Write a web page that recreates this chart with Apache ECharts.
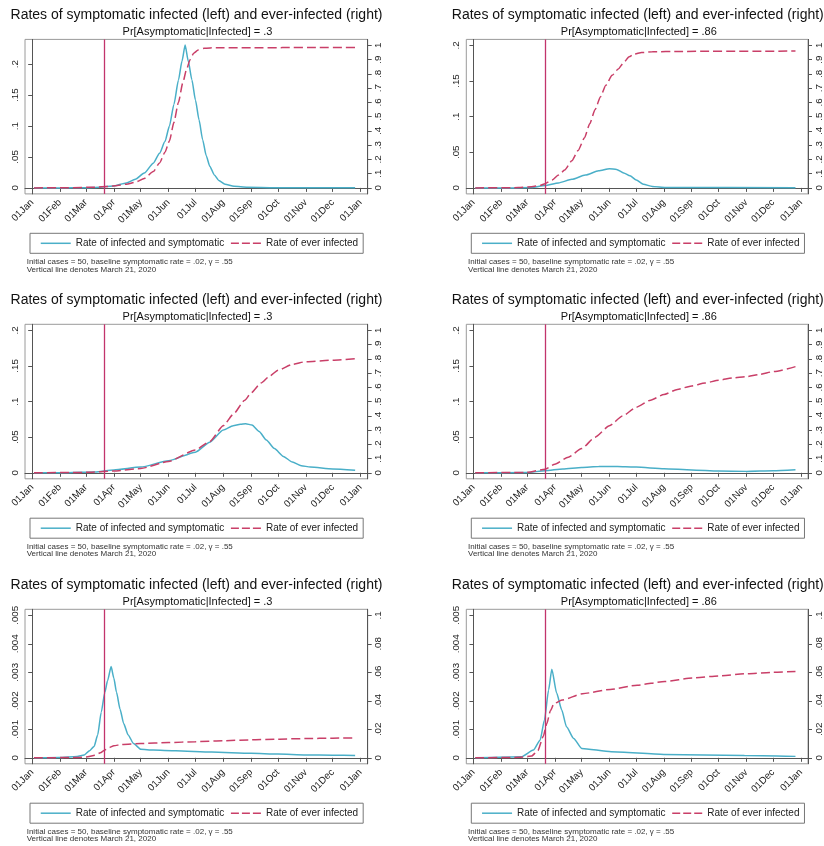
<!DOCTYPE html>
<html>
<head>
<meta charset="utf-8">
<script src="https://cdn.jsdelivr.net/npm/echarts@6/dist/echarts.min.js"></script>
<style>
html,body{margin:0;padding:0;background:#fff;}
#chart{width:824px;height:846px;}
</style>
</head>
<body>
<div id="chart"></div>
<script>
// ---------- axis ticks / labels ----------
const monthDays = [0, 31, 60, 91, 121, 152, 182, 213, 244, 274, 305, 335, 366];
const monthLabels = ['01Jan','01Feb','01Mar','01Apr','01May','01Jun','01Jul','01Aug','01Sep','01Oct','01Nov','01Dec','01Jan'];
const marchLineDay = 80; // March 21, 2020 (day index from Jan 1)

const leftTicksA = [0, 0.05, 0.1, 0.15, 0.2];
const leftLabelsA = ['0', '.05', '.1', '.15', '.2'];
const rightTicksA = [0, 0.1, 0.2, 0.3, 0.4, 0.5, 0.6, 0.7, 0.8, 0.9, 1];
const rightLabelsA = ['0', '.1', '.2', '.3', '.4', '.5', '.6', '.7', '.8', '.9', '1'];
const leftTicksB = [0, 0.001, 0.002, 0.003, 0.004, 0.005];
const leftLabelsB = ['0', '.001', '.002', '.003', '.004', '.005'];
const rightTicksB = [0, 0.02, 0.04, 0.06, 0.08, 0.1];
const rightLabelsB = ['0', '.02', '.04', '.06', '.08', '.1'];

const seriesNames = ['Rate of infected and symptomatic', 'Rate of ever infected'];
const mainTitle = 'Rates of symptomatic infected (left) and ever-infected (right)';
const subTitles = ['Pr[Asymptomatic|Infected] = .3', 'Pr[Asymptomatic|Infected] = .86'];
const noteLine1 = 'Initial cases = 50, baseline symptomatic rate = .02, \u03b3 = .55';
const noteLine2 = 'Vertical line denotes March 21, 2020';

// ---------- data: [day since Jan 1 2020, value] ----------
const sym1 = [[2,0],[30,0],[60,0.0003],[75,0.0012],[90,0.003],[105,0.008],[115,0.014],[125,0.024],[135,0.040],[142,0.056],[148,0.075],[153,0.100],[158,0.135],[163,0.174],[167,0.205],[170.5,0.231],[174,0.205],[178,0.175],[182,0.142],[186,0.110],[190,0.078],[194,0.052],[198,0.035],[203,0.021],[208,0.012],[215,0.006],[225,0.0025],[240,0.001],[270,0.0003],[360,0.0001]];
const ever1 = [[2,0],[40,0.001],[70,0.005],[85,0.010],[95,0.017],[105,0.026],[115,0.040],[125,0.066],[135,0.115],[142,0.175],[148,0.250],[153,0.330],[158,0.460],[163,0.600],[168,0.740],[172,0.830],[176,0.900],[180,0.945],[185,0.968],[192,0.980],[205,0.984],[360,0.985]];

const sym2 = [[2,0],[40,0],[65,0.0005],[80,0.0035],[95,0.007],[110,0.012],[125,0.018],[140,0.024],[152,0.027],[160,0.026],[168,0.021],[175,0.017],[182,0.011],[190,0.005],[200,0.002],[215,0.0006],[360,0.0002]];
const ever2 = [[2,0],[50,0.002],[65,0.008],[75,0.018],[80,0.030],[88,0.055],[95,0.09],[102,0.125],[110,0.19],[117,0.262],[124,0.35],[130,0.45],[136,0.55],[142,0.64],[148,0.72],[155,0.79],[162,0.835],[168,0.88],[174,0.92],[180,0.94],[188,0.95],[200,0.955],[230,0.958],[360,0.96]];

const sym3 = [[2,0],[40,0.0002],[70,0.001],[91,0.004],[121,0.008],[152,0.017],[182,0.029],[198,0.043],[213,0.060],[224,0.066],[232,0.068],[238,0.069],[245,0.067],[253,0.058],[261,0.046],[270,0.034],[280,0.023],[290,0.015],[300,0.010],[310,0.008],[335,0.0055],[360,0.0035]];
const ever3 = [[2,0],[60,0.003],[91,0.012],[121,0.03],[152,0.08],[182,0.16],[198,0.22],[213,0.33],[224,0.41],[237,0.51],[244,0.56],[255,0.63],[265,0.68],[274,0.72],[290,0.76],[305,0.78],[335,0.79],[360,0.80]];

const sym4 = [[2,0],[60,0.0003],[80,0.003],[100,0.0055],[121,0.0075],[140,0.0088],[152,0.009],[170,0.0085],[182,0.008],[213,0.0058],[244,0.004],[274,0.0025],[305,0.002],[335,0.0028],[360,0.0042]];
const ever4 = [[2,0],[60,0.003],[80,0.025],[91,0.06],[106,0.11],[121,0.17],[136,0.25],[152,0.33],[167,0.40],[182,0.46],[198,0.51],[213,0.55],[228,0.585],[244,0.61],[259,0.63],[274,0.65],[290,0.665],[305,0.675],[320,0.69],[335,0.71],[360,0.745]];

const sym5 = [[2,0],[30,0.00001],[50,0.00005],[58,0.0001],[64,0.00025],[69,0.0004],[73,0.0008],[77,0.0016],[81,0.0023],[84,0.0027],[88,0.0032],[91,0.0028],[94,0.0023],[98,0.0017],[102,0.0012],[107,0.0008],[113,0.0005],[121,0.0003],[135,0.00027],[160,0.00025],[200,0.0002],[244,0.00016],[274,0.00013],[305,0.0001],[335,0.00009],[360,0.00008]];
const ever5 = [[2,0],[50,0.0002],[62,0.0007],[70,0.0018],[76,0.0035],[81,0.0055],[86,0.0072],[91,0.0085],[100,0.0093],[121,0.0100],[152,0.0107],[182,0.0113],[213,0.0120],[244,0.0126],[274,0.0131],[305,0.0135],[335,0.0138],[360,0.014]];

const sym6 = [[2,0],[54,0.00004],[67,0.00027],[74.5,0.00062],[79.4,0.00133],[84,0.00238],[87.6,0.00311],[93,0.00227],[98.7,0.00168],[104,0.00109],[112,0.00068],[121,0.00033],[154,0.00021],[213,0.00012],[303,0.00008],[360,0.00005]];
const ever6 = [[2,0],[50,0.0003],[65,0.0012],[72,0.005],[78,0.015],[82,0.024],[86,0.033],[90,0.038],[99,0.0405],[122,0.045],[153,0.048],[183,0.051],[214,0.0535],[245,0.056],[275,0.0575],[305,0.059],[335,0.06],[360,0.0606]];

const symData = [sym1, sym2, sym3, sym4, sym5, sym6];
const everData = [ever1, ever2, ever3, ever4, ever5, ever6];

// ---------- layout / style ----------
const FONT = '"Liberation Sans", Arial, sans-serif';
const BLUE = '#4AAFC8';
const RED = '#C93F68';
const VLINE = '#C2346C';
const colLeft = [25, 466.3];
const rowTop = [39.4, 324.3, 609.3];
const gridW = 342.7, gridH = 154.5;
const zeroPx = 6;
const topTickPx = 142.5;

function labelFor(ticks, labels) {
  return function (v) {
    for (let i = 0; i < ticks.length; i++) if (Math.abs(ticks[i] - v) < 1e-9) return labels[i];
    return '';
  };
}
function range(topVal, topPx) {
  const s = topPx / topVal;
  return { min: -zeroPx / s, max: (gridH - zeroPx) / s };
}

const grids = [], xAxes = [], yAxes = [], series = [], legends = [], graphics = [];
for (let p = 0; p < 6; p++) {
  const r = Math.floor(p / 2), c = p % 2;
  const dx = colLeft[c] - colLeft[0];
  const dy = rowTop[r] - rowTop[0];
  grids.push({ left: colLeft[c], top: rowTop[r], width: gridW, height: gridH, show: true, borderColor: '#9a9a9a', borderWidth: 1, backgroundColor: '#fff' });
  xAxes.push({
    type: 'value', gridIndex: p, min: -8, max: 374,
    splitLine: { show: false },
    axisLine: { show: true, lineStyle: { color: '#555', width: 1 } },
    axisTick: { show: true, length: 4, lineStyle: { color: '#555' }, customValues: monthDays },
    axisLabel: { customValues: monthDays, rotate: 45, margin: 7, fontSize: 9.8, fontFamily: FONT, color: '#222', formatter: labelFor(monthDays, monthLabels) }
  });
  const bottom = r === 2;
  const lt = bottom ? leftTicksB : leftTicksA, ll = bottom ? leftLabelsB : leftLabelsA;
  const rt = bottom ? rightTicksB : rightTicksA, rl = bottom ? rightLabelsB : rightLabelsA;
  const lRange = p === 0 ? range(0.2, 123.7) : range(lt[lt.length - 1], topTickPx);
  const rRange = range(rt[rt.length - 1], topTickPx);
  yAxes.push({
    type: 'value', gridIndex: p, position: 'left', min: lRange.min, max: lRange.max,
    splitLine: { show: false },
    axisLine: { show: true, lineStyle: { color: '#555' } },
    axisTick: { show: true, length: 4, lineStyle: { color: '#555' }, customValues: lt },
    axisLabel: { customValues: lt, rotate: 90, margin: 5, fontSize: 9.8, fontFamily: FONT, color: '#222', formatter: labelFor(lt, ll) }
  });
  yAxes.push({
    type: 'value', gridIndex: p, position: 'right', min: rRange.min, max: rRange.max,
    splitLine: { show: false },
    axisLine: { show: true, lineStyle: { color: '#555' } },
    axisTick: { show: true, length: 4, lineStyle: { color: '#555' }, customValues: rt },
    axisLabel: { customValues: rt, rotate: 90, margin: 6, fontSize: 9.8, fontFamily: FONT, color: '#222', formatter: labelFor(rt, rl) }
  });
  series.push({
    name: seriesNames[0], type: 'line', xAxisIndex: p, yAxisIndex: 2 * p, data: symData[p],
    symbol: 'none', smooth: 0.2, smoothMonotone: 'x', z: 3,
    lineStyle: { color: BLUE, width: 1.5 }, itemStyle: { color: BLUE },
    markLine: { silent: true, symbol: 'none', label: { show: false }, animation: false,
      lineStyle: { color: VLINE, width: 1.3, type: 'solid' }, data: [{ xAxis: marchLineDay }] }
  });
  series.push({
    name: seriesNames[1], type: 'line', xAxisIndex: p, yAxisIndex: 2 * p + 1, data: everData[p],
    symbol: 'none', smooth: 0.2, smoothMonotone: 'x', z: 4,
    lineStyle: { color: RED, width: 1.5, type: [9, 4] }, itemStyle: { color: RED }
  });
  legends.push({
    data: [
      { name: seriesNames[0], lineStyle: { color: BLUE, width: 1.5, type: 'solid' } },
      { name: seriesNames[1], lineStyle: { color: RED, width: 1.5, type: [8, 3] } }
    ],
    left: 30 + dx, top: 233.3 + dy, orient: 'horizontal', selectedMode: false,
    padding: [5, 5, 5, 10], itemWidth: 30, itemHeight: 11, itemGap: 6,
    itemStyle: { opacity: 0 },
    borderColor: '#777', borderWidth: 1, backgroundColor: '#fff',
    textStyle: { fontSize: 10, fontFamily: FONT, color: '#222' }
  });
  graphics.push({ type: 'text', x: 196.5 + dx, y: 15 + dy, style: { text: mainTitle, fontSize: 14, fontFamily: FONT, fill: '#111', align: 'center', verticalAlign: 'middle', textAlign: 'center', textVerticalAlign: 'middle' } });
  graphics.push({ type: 'text', x: 197.5 + dx, y: 31.7 + dy, style: { text: subTitles[c], fontSize: 11, fontFamily: FONT, fill: '#111', align: 'center', verticalAlign: 'middle', textAlign: 'center', textVerticalAlign: 'middle' } });
  graphics.push({ type: 'text', x: 26.7 + dx, y: 261.5 + dy, style: { text: noteLine1, fontSize: 8, fontFamily: FONT, fill: '#333', align: 'left', verticalAlign: 'middle', textAlign: 'left', textVerticalAlign: 'middle' } });
  graphics.push({ type: 'text', x: 26.7 + dx, y: 269.3 + dy, style: { text: noteLine2, fontSize: 8, fontFamily: FONT, fill: '#333', align: 'left', verticalAlign: 'middle', textAlign: 'left', textVerticalAlign: 'middle' } });
}

const chart = echarts.init(document.getElementById('chart'), null, { renderer: 'canvas' });
chart.setOption({
  animation: false,
  backgroundColor: '#fff',
  grid: grids, xAxis: xAxes, yAxis: yAxes, series: series, legend: legends,
  graphic: { elements: graphics }
});
</script>
</body>
</html>
